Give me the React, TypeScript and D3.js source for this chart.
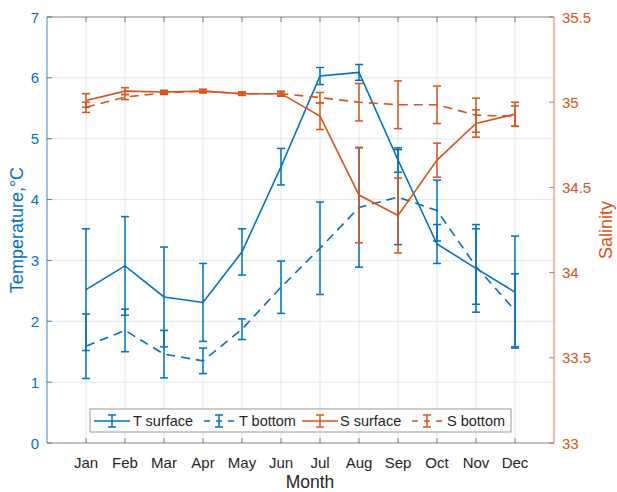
import React from "react";
import * as d3 from "d3";

const months = ["Jan", "Feb", "Mar", "Apr", "May", "Jun", "Jul", "Aug", "Sep", "Oct", "Nov", "Dec"];
const tSurf = [2.52, 2.91, 2.40, 2.31, 3.14, 4.54, 6.03, 6.09, 4.65, 3.27, 2.87, 2.48];
const tSurfErr = [1.0, 0.81, 0.82, 0.64, 0.38, 0.3, 0.14, 0.13, 0.2, 0.32, 0.72, 0.92];
const tBot = [1.59, 1.85, 1.46, 1.35, 1.87, 2.56, 3.2, 3.87, 4.04, 3.82, 2.9, 2.18];
const tBotErr = [0.53, 0.35, 0.39, 0.21, 0.17, 0.43, 0.76, 0.98, 0.78, 0.5, 0.62, 0.6];
const sSurf = [35.01, 35.065, 35.06, 35.065, 35.05, 35.05, 34.918, 34.455, 34.335, 34.66, 34.875, 34.93];
const sSurfErr = [0.04, 0.02, 0.01, 0.01, 0.01, 0.015, 0.078, 0.28, 0.22, 0.1, 0.08, 0.07];
const sBot = [34.97, 35.03, 35.055, 35.065, 35.05, 35.05, 35.027, 35.0, 34.985, 34.985, 34.924, 34.918];
const sBotErr = [0.03, 0.015, 0.01, 0.01, 0.01, 0.01, 0.03, 0.11, 0.14, 0.11, 0.1, 0.06];
const tTicks = [0, 1, 2, 3, 4, 5, 6, 7];
const sTicks = [33, 33.5, 34, 34.5, 35, 35.5];
const legendLabels = ["T surface", "T bottom", "S surface", "S bottom"];

const BLUE = "#0072BD";
const ORANGE = "#D95319";
const DARK = "#262626";
const GRID = "#e1e5ea";
const FONT = "'Liberation Sans', Arial, Helvetica, sans-serif";

const W = 617, H = 492;
const L = 47, R = 554, T = 17, B = 443;

export default function App() {
  const x = d3.scaleLinear().domain([0, 13]).range([L, R]);
  const yT = d3.scaleLinear().domain([0, 7]).range([B, T]);
  const yS = d3.scaleLinear().domain([33, 35.5]).range([B, T]);
  const idx = months.map((_, i) => i + 1);

  const series = [
    { vals: tSurf, err: tSurfErr, y: yT, color: BLUE, dash: undefined as string | undefined },
    { vals: tBot, err: tBotErr, y: yT, color: BLUE, dash: "9,6" },
    { vals: sSurf, err: sSurfErr, y: yS, color: ORANGE, dash: undefined },
    { vals: sBot, err: sBotErr, y: yS, color: ORANGE, dash: "9,6" },
  ];

  const cap = 4;
  const tick = 5;

  const legendItems = [
    { x0: 94, text: 133 },
    { x0: 201, text: 239 },
    { x0: 302, text: 340 },
    { x0: 409, text: 447 },
  ];
  const ly = 421;

  return (
    <svg width={W} height={H} style={{ position: "absolute", left: 0, top: 0, background: "#fff" }} fontFamily={FONT}>
      <rect x={0} y={0} width={W} height={H} fill="#fff" />
      {/* grid */}
      {idx.map((m) => (
        <line key={"gx" + m} x1={x(m)} x2={x(m)} y1={T} y2={B} stroke={GRID} strokeWidth={1} />
      ))}
      {tTicks.slice(1, -1).map((t) => (
        <line key={"gy" + t} x1={L} x2={R} y1={yT(t)} y2={yT(t)} stroke={GRID} strokeWidth={1} />
      ))}
      {/* axes frame */}
      <line x1={L} x2={R} y1={T} y2={T} stroke={DARK} strokeWidth={0.8} opacity={0.7} />
      <line x1={L} x2={R} y1={B} y2={B} stroke={DARK} strokeWidth={0.8} opacity={0.7} />
      <line x1={L} x2={L} y1={T} y2={B} stroke={BLUE} strokeWidth={0.8} />
      <line x1={R} x2={R} y1={T} y2={B} stroke={ORANGE} strokeWidth={0.8} />
      {/* x ticks */}
      {idx.map((m, i) => (
        <g key={"xt" + m}>
          <line x1={x(m)} x2={x(m)} y1={B} y2={B - tick} stroke={DARK} strokeWidth={0.8} opacity={0.7} />
          <line x1={x(m)} x2={x(m)} y1={T} y2={T + tick} stroke={DARK} strokeWidth={0.8} opacity={0.7} />
          <text x={x(m)} y={468} textAnchor="middle" fontSize={15} fill={DARK}>{months[i]}</text>
        </g>
      ))}
      {/* left ticks */}
      {tTicks.map((t) => (
        <g key={"lt" + t}>
          <line x1={L} x2={L + tick} y1={yT(t)} y2={yT(t)} stroke={BLUE} strokeWidth={0.8} />
          <text x={39} y={yT(t) + 5.5} textAnchor="end" fontSize={15} fill={BLUE}>{t}</text>
        </g>
      ))}
      {/* right ticks */}
      {sTicks.map((s) => (
        <g key={"rt" + s}>
          <line x1={R} x2={R - tick} y1={yS(s)} y2={yS(s)} stroke={ORANGE} strokeWidth={0.8} />
          <text x={562} y={yS(s) + 5.5} textAnchor="start" fontSize={15} fill={ORANGE}>{s}</text>
        </g>
      ))}
      {/* axis labels */}
      <text x={310} y={488} textAnchor="middle" fontSize={17.5} fill={DARK}>Month</text>
      <text transform={`translate(23,${(T + B) / 2}) rotate(-90)`} textAnchor="middle" fontSize={18} fill={BLUE}>Temperature,°C</text>
      <text transform={`translate(612,${(T + B) / 2}) rotate(-90)`} textAnchor="middle" fontSize={18} fill={ORANGE}>Salinity</text>
      {/* data */}
      {series.map((s, si) => {
        const line = d3.line<number>().x((_, i) => x(i + 1)).y((v) => s.y(v));
        return (
          <g key={"s" + si}>
            {s.vals.map((v, i) => {
              const cx = x(i + 1);
              const y1 = s.y(v + s.err[i]);
              const y2 = s.y(v - s.err[i]);
              return (
                <g key={i} stroke={s.color} strokeWidth={1.5}>
                  <line x1={cx} x2={cx} y1={y1} y2={y2} />
                  <line x1={cx - cap} x2={cx + cap} y1={y1} y2={y1} />
                  <line x1={cx - cap} x2={cx + cap} y1={y2} y2={y2} />
                </g>
              );
            })}
            <path d={line(s.vals) || ""} fill="none" stroke={s.color} strokeWidth={1.6} strokeDasharray={s.dash} />
          </g>
        );
      })}
      {/* legend */}
      <rect x={90} y={409} width={421} height={23} fill="#fff" stroke="#7f7f7f" strokeWidth={0.8} />
      {legendItems.map((it, i) => {
        const s = series[i];
        const mid = it.x0 + 18;
        return (
          <g key={"lg" + i}>
            <line x1={it.x0} x2={it.x0 + 36} y1={ly} y2={ly} stroke={s.color} strokeWidth={1.6} strokeDasharray={s.dash ? "6,6" : undefined} strokeDashoffset={s.dash ? -3 : 0} />
            <g stroke={s.color} strokeWidth={1.5}>
              <line x1={mid} x2={mid} y1={ly - 6} y2={ly + 6} />
              <line x1={mid - cap} x2={mid + cap} y1={ly - 6} y2={ly - 6} />
              <line x1={mid - cap} x2={mid + cap} y1={ly + 6} y2={ly + 6} />
            </g>
            <text x={it.text} y={ly + 5} fontSize={14.5} fill={DARK}>{legendLabels[i]}</text>
          </g>
        );
      })}
    </svg>
  );
}
